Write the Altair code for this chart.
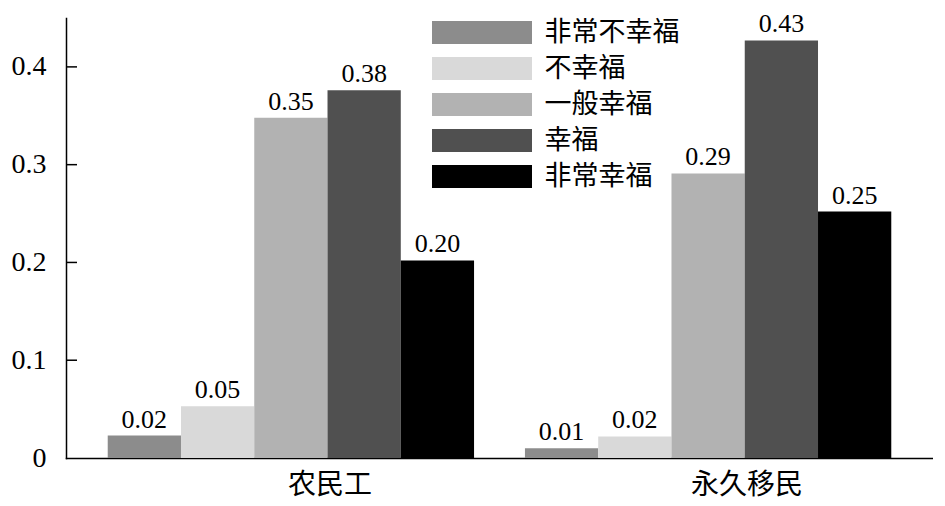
import altair as alt
import pandas as pd

groups = ["农民工", "永久移民"]
levels = ["非常不幸福", "不幸福", "一般幸福", "幸福", "非常幸福"]
colors = ["#8c8c8c", "#d9d9d9", "#b2b2b2", "#505050", "#000000"]
vals_migrant = [0.023, 0.053, 0.348, 0.376, 0.202]
vals_permanent = [0.010, 0.022, 0.291, 0.427, 0.252]
yticks = [0.1, 0.2, 0.3, 0.4]

rows = []
for g, vs in zip(groups, [vals_migrant, vals_permanent]):
    for lv, v in zip(levels, vs):
        rows.append({"group": g, "level": lv, "value": v})
df = pd.DataFrame(rows)
tick_df = pd.DataFrame({"t": yticks})

serif = "Liberation Serif, Noto Sans CJK SC"

x = alt.X("group:N", sort=groups, title=None,
          scale=alt.Scale(paddingInner=0.122, paddingOuter=0.1),
          axis=alt.Axis(labelAngle=0, ticks=False, labelFont=serif, labelFontSize=28,
                        labelColor="black", labelPadding=13, labelOffset=39,
                        domainColor="black", domainWidth=1.5, grid=False))
y = alt.Y("value:Q", title=None,
          scale=alt.Scale(domain=[0, 0.45], nice=False),
          axis=alt.Axis(values=[0, 0.1, 0.2, 0.3, 0.4], ticks=False, grid=False,
                        labelExpr="datum.value == 0 ? '0' : format(datum.value, '.1f')",
                        labelFont="Liberation Serif", labelFontSize=28, labelColor="black",
                        labelPadding=20, domainColor="black", domainWidth=1.5))

base = alt.Chart(df).encode(
    x=x,
    xOffset=alt.XOffset("level:N", sort=levels, scale=alt.Scale(paddingInner=0, paddingOuter=0)),
    y=y,
)

bars = base.mark_bar(stroke=None).encode(
    color=alt.Color("level:N", sort=levels,
                    scale=alt.Scale(domain=levels, range=colors),
                    legend=alt.Legend(
                        title=None, orient="none", legendX=402.5, legendY=1,
                        symbolType="M-4,-0.92L4,-0.92L4,0.92L-4,0.92Z",
                        symbolSize=625, symbolStrokeWidth=0,
                        labelFont="Noto Sans CJK SC", labelFontSize=27, labelColor="black",
                        labelOffset=49, rowPadding=8, labelLimit=300,
                        symbolOpacity=1)),
)

text = base.mark_text(baseline="alphabetic", dy=-8, font="Liberation Serif", fontSize=26,
                      color="black").encode(
    text=alt.Text("value:Q", format=".2f"),
)

ticks = alt.Chart(tick_df).mark_rule(color="black", strokeWidth=1.5).encode(
    y=alt.Y("t:Q", scale=alt.Scale(domain=[0, 0.45], nice=False)),
    x=alt.value(0), x2=alt.value(11),
)

chart = alt.layer(bars, text, ticks).properties(
    width=867, height=440,
    autosize=alt.AutoSizeParams(type="none"),
    padding={"left": 58, "top": 10, "right": 0, "bottom": 40},
).configure_view(stroke=None).configure_axis(domainCap="square")

chart.save("out.html", embed_options={"renderer": "svg", "actions": False})
